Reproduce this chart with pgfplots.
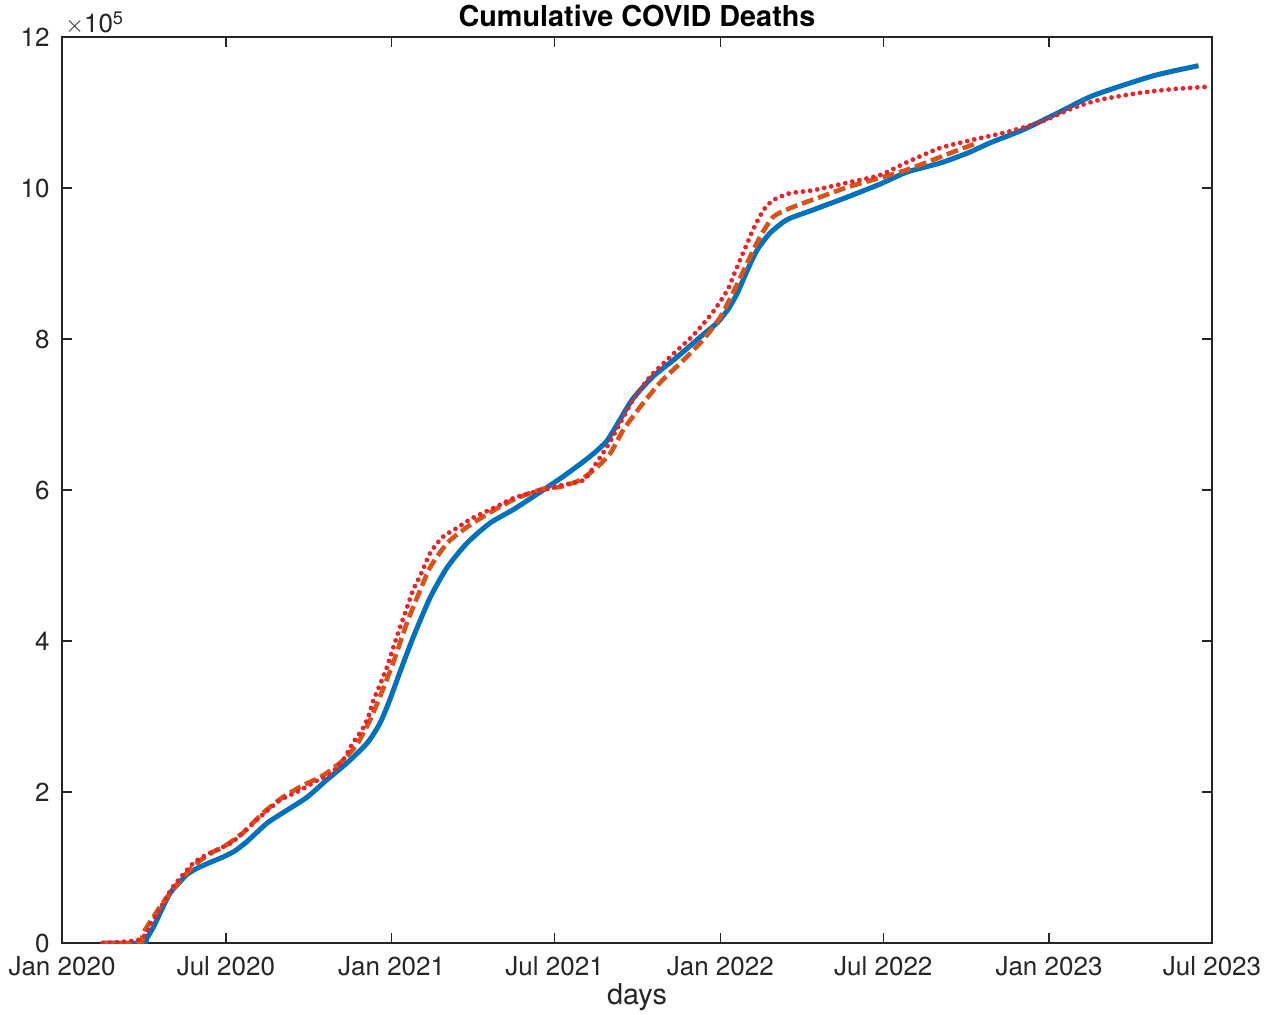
\documentclass[border=0pt]{standalone}
\usepackage{fontspec}
\setmainfont{TeX Gyre Heros}
\usepackage{pgfplots}
\pgfplotsset{compat=1.18}
\definecolor{axgray}{HTML}{262626}
\definecolor{mblue}{HTML}{0072BD}
\definecolor{morange}{HTML}{D95319}
\definecolor{mred}{HTML}{EC2229}

\begin{document}
\begin{tikzpicture}
\begin{axis}[
  scale only axis,
  width=575pt, height=453pt,
  xmin=0, xmax=1277, ymin=0, ymax=1200000,
  xtick={0,182,366,547,731,912,1096,1277},
  xticklabels={Jan 2020,Jul 2020,Jan 2021,Jul 2021,Jan 2022,Jul 2022,Jan 2023,Jul 2023},
  ytick={0,200000,400000,600000,800000,1000000,1200000},
  yticklabels={0,2,4,6,8,10,12},
  scaled y ticks=false,
  tick align=inside,
  major tick length=5pt,
  minor tick num=0,
  axis line style={draw=axgray,line width=0.6pt},
  major tick style={draw=axgray,line width=0.6pt},
  tick label style={font=\fontsize{13}{15}\selectfont, text=axgray, inner sep=0pt},
  xticklabel style={anchor=base, yshift=-16pt},
  yticklabel style={anchor=east, xshift=-6pt},
  title={Cumulative COVID Deaths},
  title style={font=\fontsize{14.4}{17}\selectfont\bfseries, text=black, at={(axis description cs:0.5,1)}, anchor=base, yshift=-1pt, inner sep=0pt},
  xlabel={days},
  xlabel style={font=\fontsize{14.4}{17}\selectfont, text=axgray, at={(axis description cs:0.5,0)}, anchor=base, yshift=-30.5pt, inner sep=0pt},
  every axis plot/.append style={line join=round},
]
% model fit
\addplot[mblue, line width=2.5pt, smooth, tension=0.4] coordinates {
(45,0) (90,0) (94,6000) (102,22000) (109,40000) (120,66000) (131,81000) (139,91000)
(150,99000) (165,107000) (179,114000) (192,122000) (205,134000) (228,159000) (250,176000)
(272,193000) (294,216000) (316,238000) (339,265000) (353,291000) (364,322000) (375,358000)
(390,405000) (409,458000) (428,498000) (450,530000) (475,556000) (501,574000) (523,591000)
(553,615000) (575,634000) (590,648000) (605,665000) (620,694000) (634,721000) (656,750000)
(683,776000) (712,806000) (728,822000) (740,840000) (750,861000) (761,891000) (772,918000)
(786,940000) (805,958000) (834,971000) (872,988000) (908,1005000) (938,1021000)
(975,1033000) (1005,1046000) (1031,1060000) (1067,1077000) (1105,1099000) (1142,1121000)
(1178,1136000) (1216,1150000) (1262,1162000)
};
% second fit
\addplot[morange, line width=2.3pt, dash pattern=on 6pt off 2.5pt, smooth, tension=0.4] coordinates {
(45,0) (87,0) (90,13000) (109,48000) (120,66000) (134,87000) (150,106000) (168,121000)
(179,127000) (201,146000) (223,172000) (245,193000) (268,209000) (290,222000) (312,242000)
(328,264000) (342,295000) (356,335000) (368,372000) (383,424000) (398,468000) (409,498000)
(428,530000) (450,551000) (475,570000) (501,587000) (520,596000) (539,603000) (553,604000)
(575,613000) (594,630000) (609,649000) (623,679000) (642,710000) (664,742000) (690,772000)
(712,799000) (731,829000) (745,861000) (761,901000) (775,935000) (790,962000) (812,975000)
(842,988000) (872,1001000) (901,1011000) (938,1024000) (986,1046000) (1017,1060000)
};
% data
\addplot[mred, line width=2.4pt, line cap=round, dash pattern=on 0pt off 3.6pt, smooth, tension=0.4] coordinates {
(45,0) (87,5000) (101,30000) (109,46000) (123,74000) (146,106000) (164,119000) (187,132000)
(201,146000) (220,167000) (242,189000) (264,202000) (283,215000) (298,224000) (312,242000)
(323,265000) (333,282000) (340,299000) (345,319000) (353,342000) (361,366000) (368,392000)
(375,417000) (383,444000) (390,468000) (398,487000) (409,517000) (423,538000) (439,550000)
(456,563000) (479,576000) (501,589000) (523,597000) (545,603000) (553,606000) (579,613000)
(590,630000) (605,657000) (620,689000) (634,719000) (653,750000) (675,776000) (701,805000)
(723,836000) (739,865000) (745,882000) (753,905000) (761,927000) (767,944000) (779,971000)
(790,984000) (808,993000) (834,997000) (872,1007000) (908,1017000) (938,1034000)
(975,1053000) (1012,1064000) (1049,1074000) (1086,1087000) (1123,1106000) (1153,1117000)
(1197,1126000) (1234,1131000) (1272,1134000)
};
\coordinate (bl) at (rel axis cs:0,0);
\coordinate (tl) at (rel axis cs:0,1);
\coordinate (tr) at (rel axis cs:1,1);
\end{axis}
\node[anchor=base west, inner sep=0pt, text=axgray, font=\fontsize{13}{15}\selectfont]
  at ([shift={(1.5pt,2pt)}]tl) {$\times$10\textsuperscript{5}};
\pgfresetboundingbox
\path[use as bounding box] ([shift={(-31pt,-35.5pt)}]bl) rectangle ([shift={(30.5pt,18.5pt)}]tr);
\end{tikzpicture}
\end{document}
